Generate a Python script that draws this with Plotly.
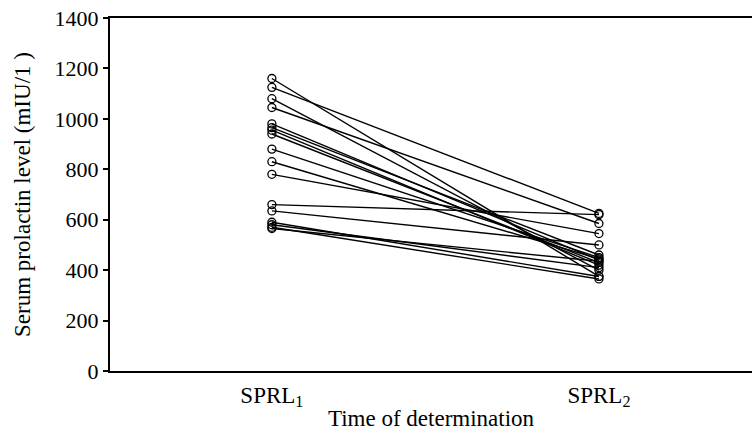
import plotly.graph_objects as go

categories = ["SPRL1", "SPRL2"]
tick_labels = ["SPRL<sub>1</sub>", "SPRL<sub>2</sub>"]
sprl1 = [1160, 1125, 1080, 1045, 980, 965, 955, 940, 880, 830, 780, 660, 635, 590, 580, 570, 565]
sprl2 = [375, 625, 400, 585, 440, 460, 420, 430, 450, 445, 545, 620, 500, 375, 410, 365, 435]
y_ticks = [0, 200, 400, 600, 800, 1000, 1200, 1400]

FONT = "Liberation Serif, Times New Roman, serif"

fig = go.Figure()
for a, b in zip(sprl1, sprl2):
    fig.add_trace(go.Scatter(
        x=[0, 1], y=[a, b], mode="lines+markers",
        line=dict(color="black", width=1.4),
        marker=dict(symbol="circle-open", size=8, color="black", line=dict(width=1.3)),
        showlegend=False, hoverinfo="y",
    ))

fig.update_layout(
    width=752, height=433,
    margin=dict(l=110, r=0, t=18, b=62),
    paper_bgcolor="white", plot_bgcolor="white",
    font=dict(family=FONT, size=22, color="black"),
    xaxis=dict(
        range=[-0.495, 1.468], tickmode="array", tickvals=[0, 1], ticktext=tick_labels,
        showgrid=False, zeroline=False, showline=True, linecolor="black", linewidth=2,
        mirror=True, ticks="outside", ticklen=2, tickcolor="rgba(0,0,0,0)", tickfont=dict(size=23),
        title=dict(text="Time of determination", font=dict(size=23), standoff=0),
        automargin=False,
    ),
    yaxis=dict(
        range=[0, 1400], tickmode="array", tickvals=y_ticks,
        showgrid=False, zeroline=False, showline=True, linecolor="black", linewidth=2,
        ticks="outside", ticklen=5, tickcolor="black", tickwidth=1.5,
        tickfont=dict(size=22),
        title=dict(text="Serum prolactin level (mIU/1 )", font=dict(size=23), standoff=18),
        automargin=False,
    ),
)

fig.write_html(
    "out.html",
    config={"displayModeBar": False},
    post_script="document.body.style.margin='0';document.body.style.padding='0';",
)
